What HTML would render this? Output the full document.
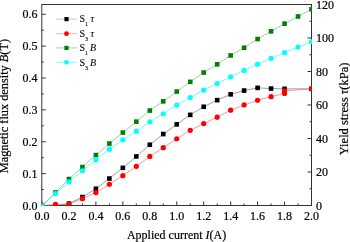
<!DOCTYPE html>
<html><head><meta charset="utf-8"><style>html,body{margin:0;padding:0;background:#fff;width:350px;height:242px;overflow:hidden}svg{display:block;will-change:transform}</style></head>
<body><svg width="350" height="242" viewBox="0 0 350 242">
<rect x="41.8" y="4.5" width="269.7" height="201" fill="none" stroke="#333" stroke-width="1"/>
<path d="M42.00 205.5V201.50 M55.48 205.5V203.50 M68.95 205.5V201.50 M82.42 205.5V203.50 M95.90 205.5V201.50 M109.38 205.5V203.50 M122.85 205.5V201.50 M136.32 205.5V203.50 M149.80 205.5V201.50 M163.28 205.5V203.50 M176.75 205.5V201.50 M190.23 205.5V203.50 M203.70 205.5V201.50 M217.18 205.5V203.50 M230.65 205.5V201.50 M244.12 205.5V203.50 M257.60 205.5V201.50 M271.07 205.5V203.50 M284.55 205.5V201.50 M298.02 205.5V203.50 M311.50 205.5V201.50 M41.8 205.50H45.8 M41.8 189.56H43.8 M41.8 173.62H45.8 M41.8 157.69H43.8 M41.8 141.75H45.8 M41.8 125.81H43.8 M41.8 109.87H45.8 M41.8 93.94H43.8 M41.8 78.00H45.8 M41.8 62.06H43.8 M41.8 46.12H45.8 M41.8 30.19H43.8 M41.8 14.25H45.8 M311.5 205.50H307.5 M311.5 188.75H309.5 M311.5 172.00H307.5 M311.5 155.25H309.5 M311.5 138.50H307.5 M311.5 121.75H309.5 M311.5 105.00H307.5 M311.5 88.25H309.5 M311.5 71.50H307.5 M311.5 54.75H309.5 M311.5 38.00H307.5 M311.5 21.25H309.5 M311.5 4.50H307.5" stroke="#333" stroke-width="1" fill="none"/>
<defs><clipPath id="pc"><rect x="41.3" y="4" width="270.7" height="202"/></clipPath></defs>
<g clip-path="url(#pc)">
<polyline points="42.00,205.75 55.48,205.55 68.95,203.65 82.42,197.05 95.90,188.75 109.38,178.55 122.85,167.85 136.32,156.45 149.80,144.75 163.28,134.05 176.75,124.35 190.23,114.85 203.70,106.75 217.18,100.15 230.65,94.35 244.12,90.55 257.60,87.85 271.07,88.55 284.55,88.85 311.50,88.85" fill="none" stroke="#606060" stroke-width="0.6"/>
<rect x="39.70" y="203.45" width="4.6" height="4.6" fill="#000000"/>
<rect x="53.18" y="203.25" width="4.6" height="4.6" fill="#000000"/>
<rect x="66.65" y="201.35" width="4.6" height="4.6" fill="#000000"/>
<rect x="80.12" y="194.75" width="4.6" height="4.6" fill="#000000"/>
<rect x="93.60" y="186.45" width="4.6" height="4.6" fill="#000000"/>
<rect x="107.08" y="176.25" width="4.6" height="4.6" fill="#000000"/>
<rect x="120.55" y="165.55" width="4.6" height="4.6" fill="#000000"/>
<rect x="134.02" y="154.15" width="4.6" height="4.6" fill="#000000"/>
<rect x="147.50" y="142.45" width="4.6" height="4.6" fill="#000000"/>
<rect x="160.97" y="131.75" width="4.6" height="4.6" fill="#000000"/>
<rect x="174.45" y="122.05" width="4.6" height="4.6" fill="#000000"/>
<rect x="187.93" y="112.55" width="4.6" height="4.6" fill="#000000"/>
<rect x="201.40" y="104.45" width="4.6" height="4.6" fill="#000000"/>
<rect x="214.88" y="97.85" width="4.6" height="4.6" fill="#000000"/>
<rect x="228.35" y="92.05" width="4.6" height="4.6" fill="#000000"/>
<rect x="241.82" y="88.25" width="4.6" height="4.6" fill="#000000"/>
<rect x="255.30" y="85.55" width="4.6" height="4.6" fill="#000000"/>
<rect x="268.77" y="86.25" width="4.6" height="4.6" fill="#000000"/>
<rect x="282.25" y="86.55" width="4.6" height="4.6" fill="#000000"/>
<rect x="309.20" y="86.55" width="4.6" height="4.6" fill="#000000"/>
<polyline points="42.00,205.75 55.48,204.45 68.95,204.15 82.42,198.65 95.90,192.55 109.38,184.25 122.85,175.65 136.32,166.35 149.80,156.45 163.28,147.65 176.75,138.75 190.23,130.35 203.70,123.55 217.18,117.15 230.65,110.15 244.12,104.95 257.60,100.25 271.07,96.65 284.55,93.45 284.56,90.95 311.50,88.75" fill="none" stroke="#ff5050" stroke-width="0.6"/>
<circle cx="42.00" cy="205.75" r="2.6" fill="#ff0000"/>
<circle cx="55.48" cy="204.45" r="2.6" fill="#ff0000"/>
<circle cx="68.95" cy="204.15" r="2.6" fill="#ff0000"/>
<circle cx="82.42" cy="198.65" r="2.6" fill="#ff0000"/>
<circle cx="95.90" cy="192.55" r="2.6" fill="#ff0000"/>
<circle cx="109.38" cy="184.25" r="2.6" fill="#ff0000"/>
<circle cx="122.85" cy="175.65" r="2.6" fill="#ff0000"/>
<circle cx="136.32" cy="166.35" r="2.6" fill="#ff0000"/>
<circle cx="149.80" cy="156.45" r="2.6" fill="#ff0000"/>
<circle cx="163.28" cy="147.65" r="2.6" fill="#ff0000"/>
<circle cx="176.75" cy="138.75" r="2.6" fill="#ff0000"/>
<circle cx="190.23" cy="130.35" r="2.6" fill="#ff0000"/>
<circle cx="203.70" cy="123.55" r="2.6" fill="#ff0000"/>
<circle cx="217.18" cy="117.15" r="2.6" fill="#ff0000"/>
<circle cx="230.65" cy="110.15" r="2.6" fill="#ff0000"/>
<circle cx="244.12" cy="104.95" r="2.6" fill="#ff0000"/>
<circle cx="257.60" cy="100.25" r="2.6" fill="#ff0000"/>
<circle cx="271.07" cy="96.65" r="2.6" fill="#ff0000"/>
<circle cx="284.55" cy="93.45" r="2.6" fill="#ff0000"/>
<circle cx="284.56" cy="90.95" r="2.6" fill="#ff0000"/>
<circle cx="311.50" cy="88.75" r="2.6" fill="#ff0000"/>
<polyline points="42.00,205.75 55.48,192.45 68.95,179.05 82.42,167.05 95.90,155.05 109.38,143.55 122.85,132.55 136.32,121.65 149.80,110.55 163.28,101.35 176.75,91.55 190.23,81.85 203.70,72.55 217.18,64.35 230.65,55.45 244.12,47.75 257.60,39.05 271.07,31.35 284.55,23.65 298.02,16.45 311.50,9.25" fill="none" stroke="#60b060" stroke-width="0.6"/>
<rect x="39.70" y="203.45" width="4.6" height="4.6" fill="#008000"/>
<rect x="53.18" y="190.15" width="4.6" height="4.6" fill="#008000"/>
<rect x="66.65" y="176.75" width="4.6" height="4.6" fill="#008000"/>
<rect x="80.12" y="164.75" width="4.6" height="4.6" fill="#008000"/>
<rect x="93.60" y="152.75" width="4.6" height="4.6" fill="#008000"/>
<rect x="107.08" y="141.25" width="4.6" height="4.6" fill="#008000"/>
<rect x="120.55" y="130.25" width="4.6" height="4.6" fill="#008000"/>
<rect x="134.02" y="119.35" width="4.6" height="4.6" fill="#008000"/>
<rect x="147.50" y="108.25" width="4.6" height="4.6" fill="#008000"/>
<rect x="160.97" y="99.05" width="4.6" height="4.6" fill="#008000"/>
<rect x="174.45" y="89.25" width="4.6" height="4.6" fill="#008000"/>
<rect x="187.93" y="79.55" width="4.6" height="4.6" fill="#008000"/>
<rect x="201.40" y="70.25" width="4.6" height="4.6" fill="#008000"/>
<rect x="214.88" y="62.05" width="4.6" height="4.6" fill="#008000"/>
<rect x="228.35" y="53.15" width="4.6" height="4.6" fill="#008000"/>
<rect x="241.82" y="45.45" width="4.6" height="4.6" fill="#008000"/>
<rect x="255.30" y="36.75" width="4.6" height="4.6" fill="#008000"/>
<rect x="268.77" y="29.05" width="4.6" height="4.6" fill="#008000"/>
<rect x="282.25" y="21.35" width="4.6" height="4.6" fill="#008000"/>
<rect x="295.72" y="14.15" width="4.6" height="4.6" fill="#008000"/>
<rect x="309.20" y="6.95" width="4.6" height="4.6" fill="#008000"/>
<polyline points="42.00,205.75 55.48,193.55 68.95,181.95 82.42,170.75 95.90,159.65 109.38,149.15 122.85,139.85 136.32,131.15 149.80,121.85 163.28,113.75 176.75,105.05 190.23,97.55 203.70,90.05 217.18,83.55 230.65,76.75 244.12,70.45 257.60,64.25 271.07,58.35 284.55,52.65 298.02,47.05 311.50,41.75" fill="none" stroke="#00ffff" stroke-width="0.6"/>
<circle cx="42.00" cy="205.75" r="2.6" fill="#00ffff"/>
<circle cx="55.48" cy="193.55" r="2.6" fill="#00ffff"/>
<circle cx="68.95" cy="181.95" r="2.6" fill="#00ffff"/>
<circle cx="82.42" cy="170.75" r="2.6" fill="#00ffff"/>
<circle cx="95.90" cy="159.65" r="2.6" fill="#00ffff"/>
<circle cx="109.38" cy="149.15" r="2.6" fill="#00ffff"/>
<circle cx="122.85" cy="139.85" r="2.6" fill="#00ffff"/>
<circle cx="136.32" cy="131.15" r="2.6" fill="#00ffff"/>
<circle cx="149.80" cy="121.85" r="2.6" fill="#00ffff"/>
<circle cx="163.28" cy="113.75" r="2.6" fill="#00ffff"/>
<circle cx="176.75" cy="105.05" r="2.6" fill="#00ffff"/>
<circle cx="190.23" cy="97.55" r="2.6" fill="#00ffff"/>
<circle cx="203.70" cy="90.05" r="2.6" fill="#00ffff"/>
<circle cx="217.18" cy="83.55" r="2.6" fill="#00ffff"/>
<circle cx="230.65" cy="76.75" r="2.6" fill="#00ffff"/>
<circle cx="244.12" cy="70.45" r="2.6" fill="#00ffff"/>
<circle cx="257.60" cy="64.25" r="2.6" fill="#00ffff"/>
<circle cx="271.07" cy="58.35" r="2.6" fill="#00ffff"/>
<circle cx="284.55" cy="52.65" r="2.6" fill="#00ffff"/>
<circle cx="298.02" cy="47.05" r="2.6" fill="#00ffff"/>
<circle cx="311.50" cy="41.75" r="2.6" fill="#00ffff"/>
</g>
<text transform="translate(42.00,215.50) scale(1,1.06)" x="0" y="4.06" text-anchor="middle" font-family="Liberation Serif" fill="#000" stroke="#000" stroke-width="0.2" font-size="12">0.0</text>
<text transform="translate(68.95,215.50) scale(1,1.06)" x="0" y="4.06" text-anchor="middle" font-family="Liberation Serif" fill="#000" stroke="#000" stroke-width="0.2" font-size="12">0.2</text>
<text transform="translate(95.90,215.50) scale(1,1.06)" x="0" y="4.06" text-anchor="middle" font-family="Liberation Serif" fill="#000" stroke="#000" stroke-width="0.2" font-size="12">0.4</text>
<text transform="translate(122.85,215.50) scale(1,1.06)" x="0" y="4.06" text-anchor="middle" font-family="Liberation Serif" fill="#000" stroke="#000" stroke-width="0.2" font-size="12">0.6</text>
<text transform="translate(149.80,215.50) scale(1,1.06)" x="0" y="4.06" text-anchor="middle" font-family="Liberation Serif" fill="#000" stroke="#000" stroke-width="0.2" font-size="12">0.8</text>
<text transform="translate(176.75,215.50) scale(1,1.06)" x="0" y="4.06" text-anchor="middle" font-family="Liberation Serif" fill="#000" stroke="#000" stroke-width="0.2" font-size="12">1.0</text>
<text transform="translate(203.70,215.50) scale(1,1.06)" x="0" y="4.06" text-anchor="middle" font-family="Liberation Serif" fill="#000" stroke="#000" stroke-width="0.2" font-size="12">1.2</text>
<text transform="translate(230.65,215.50) scale(1,1.06)" x="0" y="4.06" text-anchor="middle" font-family="Liberation Serif" fill="#000" stroke="#000" stroke-width="0.2" font-size="12">1.4</text>
<text transform="translate(257.60,215.50) scale(1,1.06)" x="0" y="4.06" text-anchor="middle" font-family="Liberation Serif" fill="#000" stroke="#000" stroke-width="0.2" font-size="12">1.6</text>
<text transform="translate(284.55,215.50) scale(1,1.06)" x="0" y="4.06" text-anchor="middle" font-family="Liberation Serif" fill="#000" stroke="#000" stroke-width="0.2" font-size="12">1.8</text>
<text transform="translate(311.50,215.50) scale(1,1.06)" x="0" y="4.06" text-anchor="middle" font-family="Liberation Serif" fill="#000" stroke="#000" stroke-width="0.2" font-size="12">2.0</text>
<text transform="translate(37.50,205.50) scale(1,1.06)" x="0" y="4.06" text-anchor="end" font-family="Liberation Serif" fill="#000" stroke="#000" stroke-width="0.2" font-size="12">0.0</text>
<text transform="translate(37.50,173.53) scale(1,1.06)" x="0" y="4.06" text-anchor="end" font-family="Liberation Serif" fill="#000" stroke="#000" stroke-width="0.2" font-size="12">0.1</text>
<text transform="translate(37.50,141.55) scale(1,1.06)" x="0" y="4.06" text-anchor="end" font-family="Liberation Serif" fill="#000" stroke="#000" stroke-width="0.2" font-size="12">0.2</text>
<text transform="translate(37.50,109.57) scale(1,1.06)" x="0" y="4.06" text-anchor="end" font-family="Liberation Serif" fill="#000" stroke="#000" stroke-width="0.2" font-size="12">0.3</text>
<text transform="translate(37.50,77.60) scale(1,1.06)" x="0" y="4.06" text-anchor="end" font-family="Liberation Serif" fill="#000" stroke="#000" stroke-width="0.2" font-size="12">0.4</text>
<text transform="translate(37.50,45.62) scale(1,1.06)" x="0" y="4.06" text-anchor="end" font-family="Liberation Serif" fill="#000" stroke="#000" stroke-width="0.2" font-size="12">0.5</text>
<text transform="translate(37.50,13.65) scale(1,1.06)" x="0" y="4.06" text-anchor="end" font-family="Liberation Serif" fill="#000" stroke="#000" stroke-width="0.2" font-size="12">0.6</text>
<text transform="translate(316.00,205.50) scale(1,1.06)" x="0" y="4.06" text-anchor="start" font-family="Liberation Serif" fill="#000" stroke="#000" stroke-width="0.2" font-size="12">0</text>
<text transform="translate(316.00,172.00) scale(1,1.06)" x="0" y="4.06" text-anchor="start" font-family="Liberation Serif" fill="#000" stroke="#000" stroke-width="0.2" font-size="12">20</text>
<text transform="translate(316.00,138.50) scale(1,1.06)" x="0" y="4.06" text-anchor="start" font-family="Liberation Serif" fill="#000" stroke="#000" stroke-width="0.2" font-size="12">40</text>
<text transform="translate(316.00,105.00) scale(1,1.06)" x="0" y="4.06" text-anchor="start" font-family="Liberation Serif" fill="#000" stroke="#000" stroke-width="0.2" font-size="12">60</text>
<text transform="translate(316.00,71.50) scale(1,1.06)" x="0" y="4.06" text-anchor="start" font-family="Liberation Serif" fill="#000" stroke="#000" stroke-width="0.2" font-size="12">80</text>
<text transform="translate(316.00,38.00) scale(1,1.06)" x="0" y="4.06" text-anchor="start" font-family="Liberation Serif" fill="#000" stroke="#000" stroke-width="0.2" font-size="12">100</text>
<text transform="translate(316.00,4.50) scale(1,1.06)" x="0" y="4.06" text-anchor="start" font-family="Liberation Serif" fill="#000" stroke="#000" stroke-width="0.2" font-size="12">120</text>
<text x="176.6" y="239.4" text-anchor="middle" font-family="Liberation Serif" fill="#000" stroke="#000" stroke-width="0.2" font-size="12">Applied current <tspan font-style="italic">I</tspan>(A)</text>
<text transform="translate(8.0,106.1) rotate(-90)" text-anchor="middle" font-family="Liberation Serif" fill="#000" stroke="#000" stroke-width="0.2" font-size="12.3">Magnetic flux density <tspan font-style="italic">B</tspan>(T)</text>
<text transform="translate(348,108.9) rotate(-90)" text-anchor="middle" font-family="Liberation Serif" fill="#000" stroke="#000" stroke-width="0.2" font-size="12.5">Yield stress <tspan font-style="italic">τ</tspan>(kPa)</text>
<line x1="56" y1="19.1" x2="77" y2="19.1" stroke="#999" stroke-width="0.55"/>
<rect x="64.4" y="17.0" width="4.2" height="4.2" fill="#000000"/>
<text x="79.4" y="22.40" font-family="Liberation Serif" font-size="10" fill="#000" stroke="#000" stroke-width="0.1">S<tspan font-size="6" dy="4">1</tspan><tspan dy="-4" dx="2.6" font-style="italic">τ</tspan></text>
<line x1="56" y1="33.7" x2="77" y2="33.7" stroke="#ff7070" stroke-width="0.55"/>
<circle cx="66.5" cy="33.7" r="2.4" fill="#ff0000"/>
<text x="79.4" y="37.00" font-family="Liberation Serif" font-size="10" fill="#000" stroke="#000" stroke-width="0.1">S<tspan font-size="6" dy="4">3</tspan><tspan dy="-4" dx="2.6" font-style="italic">τ</tspan></text>
<line x1="56" y1="47.9" x2="77" y2="47.9" stroke="#5aaa5a" stroke-width="0.55"/>
<rect x="64.4" y="45.8" width="4.2" height="4.2" fill="#008000"/>
<text x="79.4" y="51.20" font-family="Liberation Serif" font-size="10" fill="#000" stroke="#000" stroke-width="0.1">S<tspan font-size="6" dy="4">1</tspan><tspan dy="-4" dx="2" font-style="italic">B</tspan></text>
<line x1="56" y1="62.3" x2="77" y2="62.3" stroke="#00ffff" stroke-width="0.55"/>
<circle cx="66.5" cy="62.3" r="2.4" fill="#00ffff"/>
<text x="79.4" y="65.60" font-family="Liberation Serif" font-size="10" fill="#000" stroke="#000" stroke-width="0.1">S<tspan font-size="6" dy="4">3</tspan><tspan dy="-4" dx="2" font-style="italic">B</tspan></text>
</svg></body></html>
